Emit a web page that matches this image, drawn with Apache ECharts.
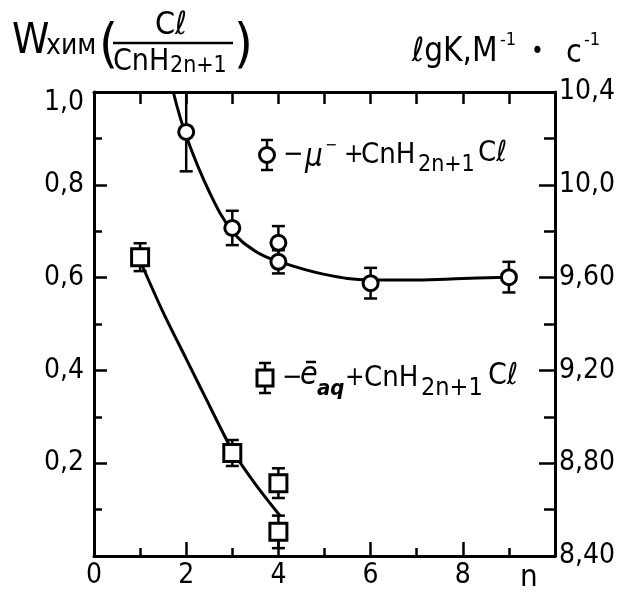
<!DOCTYPE html>
<html>
<head>
<meta charset="utf-8">
<script src="https://cdn.jsdelivr.net/npm/echarts@6/dist/echarts.min.js"></script>
<style>
  html, body { margin: 0; padding: 0; background: #fff; }
  #chart { width: 620px; height: 595px; }
</style>
</head>
<body>
<div id="chart"></div>
<script>
// muon points: n, W, error
const muN = [2, 3, 4, 4, 6, 9];
const muW = [0.914, 0.707, 0.675, 0.634, 0.588, 0.601];
const muErr = [0.085, 0.037, 0.036, 0.025, 0.033, 0.033];
// hydrated electron points
const eN = [1, 3, 4, 4];
const eW = [0.644, 0.222, 0.157, 0.052];
const eErr = [0.03, 0.028, 0.032, 0.035];
// curves
const muCurveN = [1.72, 2, 2.5, 3, 3.5, 4, 5, 6, 7, 8, 9];
const muCurveW = [1.0, 0.905, 0.785, 0.70, 0.657, 0.635, 0.607, 0.595, 0.595, 0.598, 0.601];
const eCurveN = [1.05, 1.5, 2, 2.5, 3, 3.5, 4.05];
const eCurveW = [0.625, 0.525, 0.425, 0.325, 0.228, 0.155, 0.085];

const FONT = '"DejaVu Sans Condensed", "Liberation Sans Narrow", sans-serif';

function zip(a, b, c) {
  return a.map((v, i) => c ? [v, b[i], c[i]] : [v, b[i]]);
}
function comma(s) { return s.replace('.', ','); }

function errorBars(params, api) {
  const x = api.value(0), y = api.value(1), e = api.value(2);
  const t = api.coord([x, y + e]);
  const b = api.coord([x, y - e]);
  const w = 6.5;
  const st = { stroke: '#000', lineWidth: 2.5 };
  return {
    type: 'group',
    children: [
      { type: 'line', shape: { x1: t[0], y1: t[1], x2: b[0], y2: b[1] }, style: st },
      { type: 'line', shape: { x1: t[0] - w, y1: t[1], x2: t[0] + w, y2: t[1] }, style: st },
      { type: 'line', shape: { x1: b[0] - w, y1: b[1], x2: b[0] + w, y2: b[1] }, style: st }
    ]
  };
}

// plain text helper for the graphic layer
function txt(x, y, s, size, extra) {
  return {
    type: 'text', x: x, y: y,
    style: Object.assign({ text: s, fontSize: size, fontFamily: FONT, fill: '#000', verticalAlign: 'middle' }, extra || {})
  };
}
function seg(x1, y1, x2, y2) {
  return { type: 'line', shape: { x1, y1, x2, y2 }, style: { stroke: '#000', lineWidth: 2.5 } };
}

const chart = echarts.init(document.getElementById('chart'));

const tickStyle = { color: '#000', width: 2.5 };
function axisLine() { return { onZero: false, lineStyle: { color: '#000', width: 3 } }; }

const option = {
  backgroundColor: '#fff',
  animation: false,
  grid: { left: 94, right: 65, top: 92, bottom: 39 },
  xAxis: [
    {
      type: 'value', position: 'bottom', min: 0, max: 10, interval: 2,
      axisLine: axisLine(),
      axisTick: { inside: true, length: 14, lineStyle: tickStyle },
      minorTick: { show: true, splitNumber: 2, length: 8, lineStyle: tickStyle },
      axisLabel: {
        color: '#000', fontSize: 28, fontFamily: FONT, margin: 6,
        formatter: v => v >= 10 ? '' : String(v)
      },
      splitLine: { show: false }
    },
    {
      type: 'value', position: 'top', min: 0, max: 10, interval: 1,
      axisLine: axisLine(),
      axisTick: { inside: true, length: 12, lineStyle: tickStyle },
      axisLabel: { show: false },
      splitLine: { show: false }
    }
  ],
  yAxis: [
    {
      type: 'value', position: 'left', min: 0, max: 1, interval: 0.2,
      axisLine: axisLine(),
      axisTick: { inside: true, length: 13, lineStyle: tickStyle },
      minorTick: { show: true, splitNumber: 2, length: 8, lineStyle: tickStyle },
      axisLabel: {
        color: '#000', fontSize: 28, fontFamily: FONT, margin: 10,
        formatter: v => v <= 0 ? '' : (v >= 1 ? '{t|1,0}' : comma(v.toFixed(1))),
        rich: { t: { fontSize: 28, fontFamily: FONT, color: '#000', padding: [22, 0, 0, 0] } }
      },
      splitLine: { show: false }
    },
    {
      type: 'value', position: 'right', min: 8.4, max: 10.4, interval: 0.4,
      axisLine: axisLine(),
      axisTick: { inside: true, length: 16, lineStyle: tickStyle },
      minorTick: { show: true, splitNumber: 2, length: 11, lineStyle: tickStyle },
      axisLabel: {
        color: '#000', fontSize: 28, fontFamily: FONT, margin: 4,
        formatter: v => comma(v >= 10 ? v.toFixed(1) : v.toFixed(2))
      },
      splitLine: { show: false }
    }
  ],
  series: [
    {
      type: 'line', smooth: 0.4, symbol: 'none', clip: true,
      lineStyle: { color: '#000', width: 3 },
      data: zip(muCurveN, muCurveW), z: 2
    },
    {
      type: 'line', smooth: 0.3, symbol: 'none', clip: true,
      lineStyle: { color: '#000', width: 3 },
      data: zip(eCurveN, eCurveW), z: 2
    },
    { type: 'custom', renderItem: errorBars, data: zip(muN, muW, muErr), z: 3 },
    { type: 'custom', renderItem: errorBars, data: zip(eN, eW, eErr), z: 3 },
    {
      type: 'scatter', symbol: 'circle', symbolSize: 15,
      itemStyle: { color: '#fff', borderColor: '#000', borderWidth: 3, opacity: 1 },
      data: zip(muN, muW), z: 4
    },
    {
      type: 'scatter', symbol: 'rect', symbolSize: 17,
      itemStyle: { color: '#fff', borderColor: '#000', borderWidth: 3, opacity: 1 },
      data: zip(eN, eW), z: 4
    }
  ],
  graphic: [
    // left title: W_хим (Cl / CnH2n+1)
    txt(12, 42, 'W', 42),
    txt(46, 47, 'хим', 28),
    txt(99, 48, '(', 54),
    txt(234, 48, ')', 54),
    txt(171, 26, 'Cℓ', 32, { align: 'center' }),
    seg(113, 43, 233, 43),
    txt(113, 62, 'CnH', 30),
    txt(170, 66, '2n+1', 23),
    // right title: lgK, M^-1 * c^-1
    txt(412, 52, 'ℓgK,M', 33),
    txt(500, 40, '-1', 18),
    txt(531, 53, '•', 24),
    txt(566, 54, 'c', 32),
    txt(584, 40, '-1', 18),
    // n label on x axis
    txt(520, 578, 'n', 31),
    // legend 1
    seg(267, 140, 267, 170), seg(261, 140, 273, 140), seg(261, 170, 273, 170),
    { type: 'circle', shape: { cx: 267, cy: 155, r: 7.5 }, style: { fill: '#fff', stroke: '#000', lineWidth: 3 } },
    txt(283, 155, '−', 27),
    txt(305, 158, 'μ', 31, { fontStyle: 'italic' }),
    txt(325, 146, '−', 16),
    txt(344, 155, '+', 26),
    txt(361, 155, 'CnH', 29),
    txt(418, 165, '2n+1', 23),
    txt(478, 153, 'Cℓ', 29),
    // legend 2
    seg(265, 363, 265, 393), seg(259, 363, 271, 363), seg(259, 393, 271, 393),
    { type: 'rect', shape: { x: 257, y: 370, width: 16, height: 16 }, style: { fill: '#fff', stroke: '#000', lineWidth: 3 } },
    txt(282, 378, '−', 27),
    txt(300, 376, 'e', 32, { fontStyle: 'italic' }),
    seg(306, 362, 316, 362),
    txt(317, 389, 'aq', 22, { fontStyle: 'italic', fontWeight: 'bold' }),
    txt(345, 378, '+', 26),
    txt(364, 378, 'CnH', 29),
    txt(421, 388, '2n+1', 25),
    txt(488, 376, 'Cℓ', 30)
  ]
};

chart.setOption(option);
</script>
</body>
</html>
